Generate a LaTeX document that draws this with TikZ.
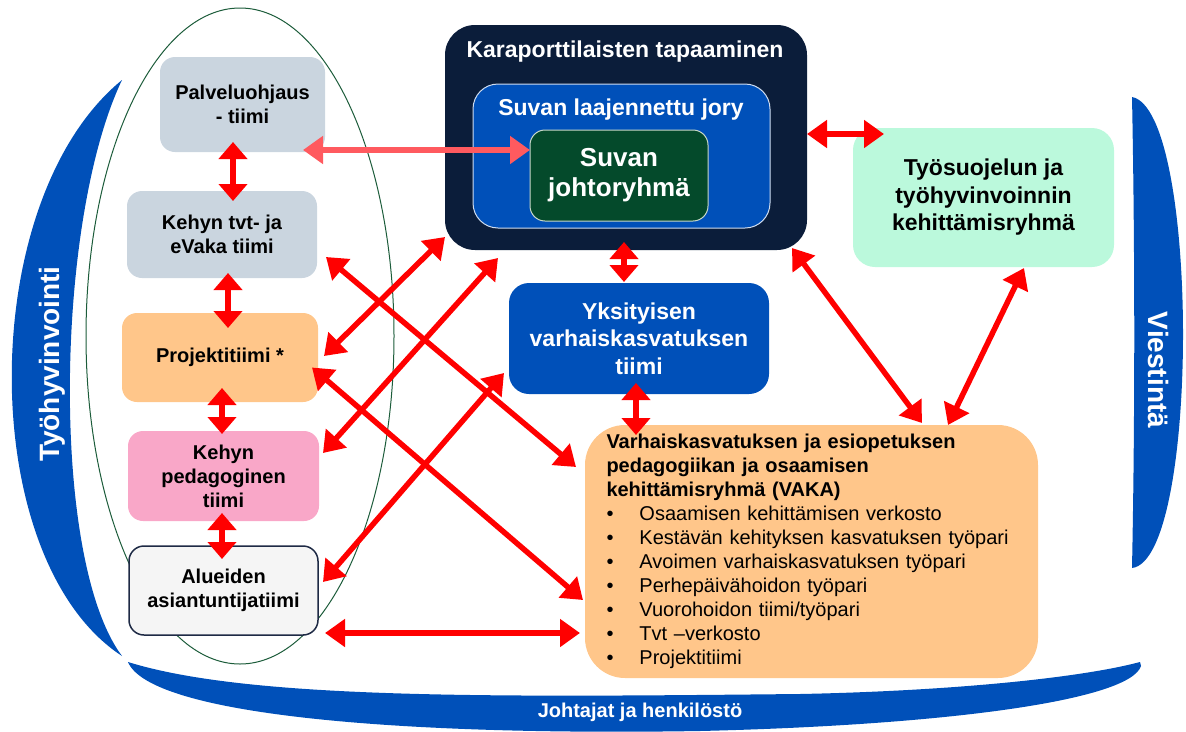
\documentclass[tikz,border=0pt]{standalone}
\usepackage{fontspec}
\setmainfont{Liberation Sans}
\usepackage{tikz}
\usetikzlibrary{arrows.meta,calc}
\definecolor{navy}{HTML}{0B1D3A}
\definecolor{suvablue}{HTML}{0050B9}
\definecolor{johtogreen}{HTML}{044A2B}
\definecolor{greyblue}{HTML}{CAD5DF}
\definecolor{peach}{HTML}{FFC68A}
\definecolor{pinkish}{HTML}{F9A7C8}
\definecolor{offwhite}{HTML}{F5F5F5}
\definecolor{edgegrey}{HTML}{1E2A45}
\definecolor{mint}{HTML}{BBF9DC}
\definecolor{salmon}{HTML}{FF5A5F}
\definecolor{ringgreen}{HTML}{1C5C3A}
\definecolor{joryedge}{HTML}{D0DDF0}
\definecolor{johtoedge}{HTML}{C8D8C8}
\tikzset{
    every node/.style={rectangle, inner sep=0pt, outer sep=0pt, align=center,
    	font=\fontsize{20}{24}\selectfont\bfseries}
}
\tikzset{
    team/.style={fill=greyblue, rounded corners=15pt},
    whitetext/.style={text=white, font=\fontsize{23}{27.5}\selectfont\bfseries},
    band/.style={fill=suvablue},
    bandtext/.style={text=white, font=\fontsize{28}{30}\selectfont\bfseries}
}
\tikzset{
    twoway/.style={color=red, line width=5.5pt,
    	{Triangle[length=20pt,width=27pt]}-{Triangle[length=20pt,width=27pt]}},
    updown/.style={color=red, line width=6.5pt,
    	{Triangle[length=17pt,width=28pt]}-{Triangle[length=17pt,width=28pt]}},
    softway/.style={twoway, color=salmon}
}
\pgfdeclarelayer{background}
\pgfsetlayers{background,main}

\begin{document}
\begin{tikzpicture}[x=1pt, y=-1pt]
  \useasboundingbox (0,0) rectangle (1186,731);

  \begin{pgfonlayer}{background}
  \fill [band] (122,80) .. controls (-25,200) and (-25,560) .. (122,656)
    .. controls (50,560) and (55,220) .. (122,80) -- cycle;
  \fill [band] (1132,97) .. controls (1200,110) and (1200,560) .. (1132,568)
    .. controls (1135,420) and (1135,250) .. (1132,97) -- cycle;
  \fill [band] (128,662) .. controls (250,700) and (500,697) .. (800,694)
    .. controls (950,691) and (1080,678) .. (1140,662) -- (1141,666)
    .. controls (1130,700) and (950,725) .. (700,731)
    .. controls (400,736) and (150,715) .. (128,662) -- cycle;
  \draw [ringgreen, line width=1pt] (240,336) ellipse [x radius=154pt, y radius=328pt];
  \end{pgfonlayer}

  \node (wellbeing) [bandtext, rotate=90] at (52,364) {Työhyvinvointi};
  \node (comms) [bandtext, rotate=-90] at (1158,370) {Viestintä};
  \node (staff) [bandtext, font=\fontsize{20}{24}\selectfont\bfseries] at (640,712) {Johtajat ja henkilöstö};

  \node (pal) [team, minimum width=165pt, minimum height=95pt] at (242.5,104.5) {Palveluohjaus\\- tiimi};
  \node (tvt) [team, minimum width=190pt, minimum height=87pt] at (222,234.5) {Kehyn tvt- ja\\eVaka tiimi};
  \node (proj) [team, fill=peach, minimum width=196pt, minimum height=89pt] at (220,357.5) {Projektitiimi *};
  \node (peda) [team, fill=pinkish, minimum width=191pt, minimum height=90pt] at (223.5,476) {Kehyn\\pedagoginen\\tiimi};
  \node (alue) [team, fill=offwhite, draw=edgegrey, line width=1.5pt, minimum width=189pt, minimum height=89pt] at (223.5,590.5) {Alueiden\\asiantuntijatiimi};

  \node (kara) [fill=navy, rounded corners=30pt, minimum width=362pt, minimum height=225pt] at (626,137.5) {};
  \node (karatitle) [whitetext] at (625,52) {Karaporttilaisten tapaaminen};
  \node (jory) [fill=suvablue, draw=joryedge, line width=1pt, rounded corners=25pt, minimum width=297pt, minimum height=144pt] at (621.5,156) {};
  \node (jorytitle) [whitetext] at (621,110) {Suvan laajennettu jory};
  \node (johto) [fill=johtogreen, draw=johtoedge, line width=1pt, rounded corners=15pt, minimum width=178pt, minimum height=91pt,
    text=white, font=\fontsize{26}{30}\selectfont\bfseries] at (619,175.5) {Suvan\\johtoryhmä};
  \node (yks) [fill=suvablue, rounded corners=20pt, minimum width=260pt, minimum height=111pt, whitetext] at (639,338.5) {Yksityisen\\varhaiskasvatuksen\\tiimi};
  \node (tyo) [fill=mint, rounded corners=22pt, minimum width=261pt, minimum height=139pt,
    font=\fontsize{23}{27.5}\selectfont\bfseries] at (983.5,197.5) {Työsuojelun ja\\työhyvinvoinnin\\kehittämisryhmä};
  \node (vaka) [fill=peach, rounded corners=40pt, minimum width=453pt, minimum height=253pt, text width=410pt, align=left,
    font=\fontsize{20}{24}\selectfont] at (811.5,551.5) {\textbf{Varhaiskasvatuksen ja esiopetuksen}\\
    \textbf{pedagogiikan ja osaamisen}\\
    \textbf{kehittämisryhmä (VAKA)}\\
    \makebox[33pt][l]{\textbullet}Osaamisen kehittämisen verkosto\\
    \makebox[33pt][l]{\textbullet}Kestävän kehityksen kasvatuksen työpari\\
    \makebox[33pt][l]{\textbullet}Avoimen varhaiskasvatuksen työpari\\
    \makebox[33pt][l]{\textbullet}Perhepäivähoidon työpari\\
    \makebox[33pt][l]{\textbullet}Vuorohoidon tiimi/työpari\\
    \makebox[33pt][l]{\textbullet}Tvt –verkosto\\
    \makebox[33pt][l]{\textbullet}Projektitiimi};

  \draw [updown] ($(pal.south)+(-9.5,-10)$) -- ($(tvt.north)+(11,10)$);
  \draw [updown] ($(tvt.south)+(6,-5)$) -- ($(proj.north)+(8,15)$);
  \draw [updown] ($(proj.south)+(2,-14)$) -- ($(peda.north)+(-1.5,3)$);
  \draw [updown] ($(peda.south)+(-1.5,-8)$) -- ($(alue.north)+(-1.5,13)$);
  \draw [updown] ($(kara.south)+(-2,-8)$) -- ($(yks.north)+(-15,-1)$);
  \draw [updown] ($(yks.south)+(-3,-11)$) -- ($(vaka.north west)+(51,10)$);

  \draw [softway] ($(pal.south east)+(-22,-2)$) -- ($(johto.west)+(0,-25.5)$);
  \draw [twoway] ($(kara.east)+(0,-3.5)$) -- ($(tyo.north west)+(31,6)$);
  \draw [twoway] ($(kara.south east)+(-15,-2)$) -- ($(vaka.north)+(110.5,-2)$);
  \draw [twoway] ($(tyo.south)+(40.5,1)$) -- ($(vaka.north)+(136.5,0)$);
  \draw [twoway] ($(tvt.east)+(9,22.5)$) -- ($(vaka.north west)+(-9,42)$);
  \draw [twoway] ($(kara.south west)+(0,-13)$) -- ($(proj.east)+(6,-1.5)$);
  \draw [twoway] ($(kara.south west)+(53,8)$) -- ($(peda.east)+(4,-23)$);
  \draw [twoway] ($(proj.east)+(-6,10)$) -- ($(vaka.north west)+(-2,175)$);
  \draw [twoway] ($(yks.west)+(-5,34.5)$) -- ($(alue.east)+(5,-8.5)$);
  \draw [twoway] ($(alue.east)+(7,42.5)$) -- ($(vaka.west)+(-5,81.5)$);
\end{tikzpicture}
\end{document}
